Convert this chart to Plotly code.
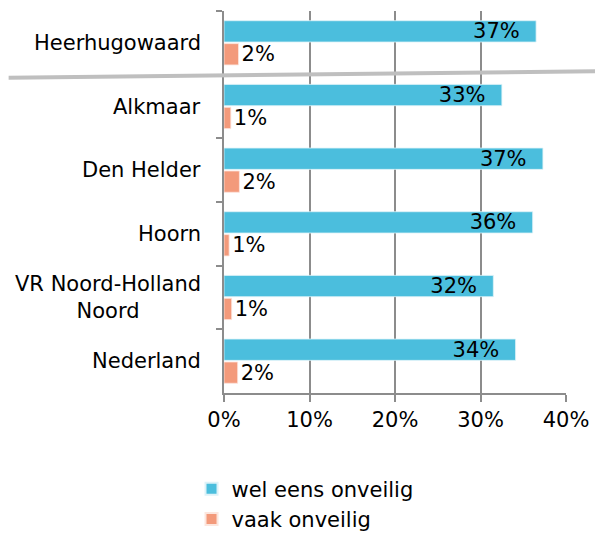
import plotly.graph_objects as go

categories = ["Heerhugowaard", "Alkmaar", "Den Helder", "Hoorn",
              "VR Noord-Holland<br>Noord", "Nederland"]
wel_eens = [36.5, 32.5, 37.3, 36.1, 31.5, 34.1]
vaak = [1.7, 0.8, 1.8, 0.6, 0.9, 1.6]
wel_eens_labels = ["37%", "33%", "37%", "36%", "32%", "34%"]
vaak_labels = ["2%", "1%", "2%", "1%", "1%", "2%"]
x_ticks = [0, 10, 20, 30, 40]
x_tick_labels = ["0%", "10%", "20%", "30%", "40%"]
series_names = ["wel eens onveilig", "vaak onveilig"]

FONT = "DejaVu Sans"
FS = 21
BLUE = "#4BBEDD"
SALMON = "#F39A7B"
GRID = "#8C8C8C"

# page body has an 8px default margin: figure is drawn from (8, 8)
OFF = 8
W, H = 603 - OFF, 533 - OFF
L, R, T, B = 223.5 - OFF, 37.3, 10.7 - OFF, 139.7
pw = W - L - R
ph = H - T - B

fig = go.Figure()
fig.add_trace(go.Bar(
    y=categories, x=wel_eens, orientation="h", name=series_names[0],
    marker=dict(color=BLUE, line=dict(color="#DDF2F8", width=0.8)),
    text=[t + "\u00a0\u00a0" for t in wel_eens_labels],
    textposition="inside", insidetextanchor="end",
    textfont=dict(family=FONT, size=FS, color="black"),
    cliponaxis=False,
))
fig.add_trace(go.Bar(
    y=categories, x=vaak, orientation="h", name=series_names[1],
    marker=dict(color=SALMON, line=dict(color="#FCE6DE", width=0.8)),
    text=vaak_labels, textposition="outside",
    textfont=dict(family=FONT, size=FS, color="black"),
    cliponaxis=False,
))

for c in categories:
    fig.add_annotation(
        x=-21.5 / pw, xref="paper", y=c, yref="y",
        text=c, showarrow=False, xanchor="right", yanchor="middle",
        align="center", font=dict(family=FONT, size=FS, color="black"),
    )

# separator line between Heerhugowaard and the rest (reference pixel coords)
x0p, y0p = 8, 77.5
x1p, y1p = 603, 71
fig.add_shape(
    type="line", xref="paper", yref="paper",
    x0=(x0p - OFF - L) / pw, x1=(x1p - OFF - L) / pw,
    y0=(H - B - (y0p - OFF)) / ph, y1=(H - B - (y1p - OFF)) / ph,
    line=dict(color="#BFBFBF", width=4),
)

fig.update_layout(
    width=W, height=H,
    margin=dict(l=L, r=R, t=T, b=B, pad=0, autoexpand=False),
    paper_bgcolor="white", plot_bgcolor="white",
    barmode="group", bargap=0.28, bargroupgap=0.07,
    font=dict(family=FONT, size=FS, color="black"),
    uniformtext=dict(minsize=FS, mode="show"),
    showlegend=True,
    legend=dict(
        orientation="v", x=(183 - L) / pw, xanchor="left",
        y=(H - B - 461) / ph, yanchor="top",
        font=dict(family=FONT, size=FS, color="black"),
        bgcolor="rgba(0,0,0,0)", tracegroupgap=0, itemsizing="constant",
    ),
    xaxis=dict(
        range=[0, 40], tickvals=x_ticks, ticktext=x_tick_labels,
        showgrid=True, gridcolor=GRID, gridwidth=1.5,
        showline=True, linecolor=GRID, linewidth=2,
        ticks="outside", ticklen=7, tickcolor=GRID, tickwidth=1.5,
        zeroline=False, automargin=False,
        tickfont=dict(family=FONT, size=FS, color="black"),
    ),
    yaxis=dict(
        type="category", categoryorder="array", categoryarray=categories,
        autorange="reversed", showticklabels=False,
        ticks="outside", ticklen=6, tickcolor=GRID, tickwidth=1.5,
        tickson="boundaries", automargin=False,
        showline=True, linecolor=GRID, linewidth=2,
        showgrid=False, zeroline=False,
    ),
)

fig.write_html("out.html")
